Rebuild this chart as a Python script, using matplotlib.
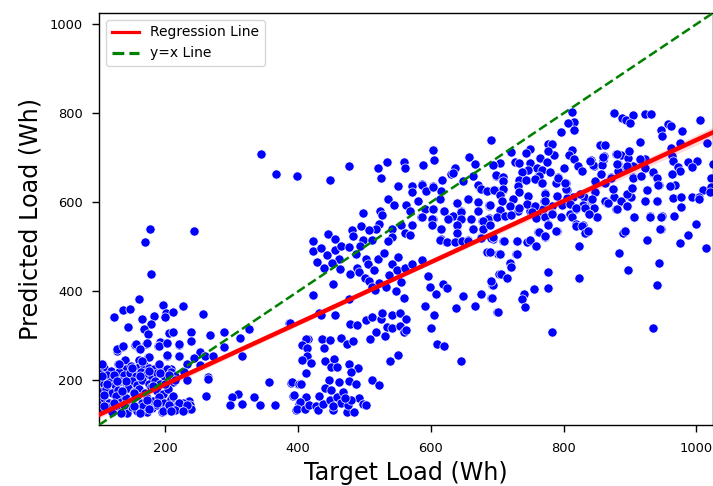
import matplotlib
matplotlib.use("Agg")
import matplotlib.pyplot as plt
from matplotlib.lines import Line2D
import numpy as np

# (target, predicted), one list per region
low_sparse = [
    (178, 439), (160, 383), (123, 342), (136, 358), (147, 361), (197, 369), (226, 368), (183, 345),
    (201, 351), (200, 342), (212, 353), (256, 349), (165, 337), (143, 321), (178, 327), (168, 316),
    (174, 304), (205, 306), (212, 309), (239, 308), (267, 302), (289, 308), (326, 315), (386, 330),
    (313, 295), (238, 288), (221, 279), (201, 283), (192, 287), (189, 278), (171, 282), (154, 280),
    (160, 272), (135, 276), (127, 267), (289, 275), (252, 264), (243, 251), (260, 256), (271, 256),
    (315, 256), (221, 255), (203, 256), (174, 252), (139, 246), (104, 235), (129, 237), (161, 245),
    (190, 235), (233, 236), (252, 235), (228, 220), (205, 220), (209, 226), (233, 201), (264, 208),
    (264, 203), (356, 197), (389, 195), (400, 192), (261, 166), (211, 163), (309, 170), (301, 162),
    (333, 163), (393, 166), (297, 144), (315, 147), (342, 144), (365, 146), (402, 148), (397, 134),
    (235, 153), (177, 541), (170, 510), (243, 535), (344, 708), (366, 663),
]
low_dense = [
    (108, 228), (118, 222), (134, 228), (141, 225), (148, 232), (152, 226), (160, 230), (168, 235),
    (175, 229), (183, 225), (196, 222), (203, 226), (208, 218), (102, 215), (112, 212), (122, 207),
    (130, 218), (138, 213), (146, 216), (155, 210), (163, 218), (172, 214), (180, 208), (188, 216),
    (200, 205), (214, 210), (100, 200), (107, 192), (116, 197), (124, 190), (132, 199), (140, 195),
    (150, 198), (157, 190), (165, 200), (175, 193), (184, 199), (192, 192), (206, 190), (212, 197),
    (103, 175), (110, 180), (120, 172), (128, 178), (136, 170), (143, 182), (152, 174), (160, 180),
    (170, 172), (178, 185), (187, 177), (196, 170), (204, 180), (101, 155), (108, 160), (115, 150),
    (125, 165), (133, 152), (141, 160), (150, 155), (157, 165), (165, 150), (173, 160), (182, 153),
    (190, 163), (198, 150), (208, 158), (218, 145), (226, 150), (104, 135), (112, 140), (120, 130),
    (128, 143), (135, 135), (142, 128), (150, 140), (158, 132), (166, 143), (172, 130), (180, 138),
    (188, 145), (195, 130), (203, 137), (212, 140), (222, 135), (230, 140), (234, 135), (237, 145),
    (228, 142), (127, 270), (136, 277), (155, 281), (172, 284), (162, 271), (190, 278), (202, 284),
    (202, 258), (221, 281), (221, 256), (175, 253), (165, 243), (105, 236), (130, 238), (190, 236),
    (150, 228), (122, 213), (140, 198), (162, 210), (175, 221), (192, 217), (205, 213), (215, 202),
    (105, 210), (112, 191), (127, 198), (182, 187), (200, 191), (211, 165), (107, 168), (135, 176),
    (152, 172), (172, 157), (122, 150), (137, 146), (152, 142), (175, 135), (197, 131), (222, 146),
    (235, 138), (220, 150), (205, 146), (187, 150), (133, 126), (162, 126), (107, 142),
    (238, 135), (232, 146), (215, 133), (208, 132), (226, 132),
]
mid_upper = [
    (398, 658), (448, 651), (477, 681), (521, 678), (534, 690), (525, 654), (560, 691), (561, 677),
    (588, 684), (604, 694), (603, 717), (658, 701), (667, 685), (550, 637), (636, 678), (631, 663),
    (616, 650), (572, 637), (587, 640), (603, 636), (572, 623), (592, 626), (615, 625), (536, 607),
    (545, 593), (563, 595), (580, 602), (524, 580), (498, 577), (527, 571), (568, 580), (591, 584),
    (603, 584), (619, 580), (585, 567), (603, 563), (626, 564), (634, 569), (640, 598), (646, 580),
    (656, 607), (671, 601), (671, 580), (687, 592), (684, 626), (694, 628), (674, 631), (661, 562),
    (645, 562), (687, 565), (677, 558), (699, 567), (494, 547), (522, 552), (517, 540), (507, 538),
    (481, 537), (445, 529), (455, 517), (482, 524), (498, 515), (512, 515), (555, 550), (542, 539),
    (572, 548), (561, 532), (568, 526), (542, 521), (535, 513), (615, 540), (640, 547), (640, 530),
    (663, 541), (679, 540), (615, 517), (623, 510), (639, 512), (648, 513), (656, 515), (675, 522),
    (694, 518), (423, 512), (422, 491), (435, 497), (444, 482), (456, 494), (465, 502), (476, 500),
    (493, 503), (487, 483), (462, 473), (451, 464), (428, 466), (439, 453), (463, 451), (478, 440),
    (502, 473), (505, 461), (489, 452), (492, 444), (514, 449), (521, 472), (529, 486), (550, 477),
    (542, 461), (549, 449), (561, 453), (572, 461), (586, 470), (537, 437), (500, 431), (507, 423),
    (522, 418), (533, 410), (555, 422), (511, 410), (516, 403), (547, 401), (560, 385), (452, 417),
    (423, 392), (476, 383), (596, 435), (598, 410), (608, 393), (618, 416), (625, 408), (591, 368),
    (604, 346), (638, 362), (649, 389), (667, 367), (675, 393), (691, 386), (692, 414), (691, 423),
    (700, 354), (685, 488), (701, 485), (702, 438),
]
mid_dense = [
    (587, 638), (592, 625), (603, 635), (649, 648), (634, 666), (664, 660), (698, 660), (709, 648),
    (731, 637), (744, 650), (762, 658), (767, 643), (671, 638), (676, 629), (684, 625), (696, 628),
    (709, 628), (704, 618), (656, 607), (639, 599), (671, 601), (687, 593), (719, 592), (745, 597),
    (772, 595), (757, 592), (614, 607), (603, 584), (620, 580), (646, 579), (671, 580), (686, 563),
    (661, 562), (699, 568), (711, 569), (731, 580), (749, 580), (764, 573), (602, 563), (586, 568),
    (626, 563), (646, 562), (679, 558), (601, 550), (639, 548), (615, 541), (664, 541), (679, 539),
    (640, 530), (772, 524), (762, 533), (614, 515), (624, 511), (636, 511), (647, 513), (656, 513),
    (675, 520), (691, 519), (709, 513), (729, 514), (749, 514), (759, 501), (685, 488), (704, 485),
    (728, 483), (719, 464), (721, 455),
]
mid_lower = [
    (388, 330), (432, 352), (434, 348), (456, 348), (478, 327), (489, 324), (502, 335), (512, 343),
    (525, 338), (527, 352), (541, 347), (553, 351), (562, 338), (534, 320), (542, 318), (554, 323),
    (560, 309), (563, 313), (517, 309), (509, 294), (531, 300), (600, 318), (609, 282), (619, 278),
    (551, 257), (538, 243), (646, 243), (415, 294), (412, 292), (406, 279), (413, 273), (436, 292),
    (448, 291), (465, 295), (439, 273), (473, 281), (482, 288), (413, 256), (406, 246), (419, 240),
    (440, 243), (454, 249), (449, 230), (459, 231), (476, 236), (490, 229), (479, 219), (412, 217),
    (391, 197), (401, 192), (405, 192), (447, 201), (462, 197), (477, 198), (487, 193), (511, 201),
    (522, 189), (394, 167), (412, 162), (403, 151), (399, 136), (411, 135), (416, 145), (427, 142),
    (430, 133), (438, 147), (431, 165), (440, 183), (449, 178), (448, 157), (458, 163), (468, 174),
    (464, 150), (453, 133), (473, 130), (484, 130), (475, 146), (491, 161), (497, 147), (502, 146),
    (480, 157), (470, 161), (453, 142),
]
high_points = [
    (812, 802), (816, 781), (807, 778), (815, 763), (796, 757), (876, 801), (888, 790), (894, 784),
    (904, 796), (900, 777), (922, 799), (932, 798), (957, 776), (961, 771), (946, 763), (948, 748),
    (979, 760), (1006, 784), (915, 736), (976, 734), (961, 721), (1016, 734), (855, 729), (863, 729),
    (777, 732), (783, 732), (749, 719), (690, 739), (721, 713), (744, 710), (812, 718), (879, 709),
    (899, 716), (887, 706), (897, 700), (786, 706), (808, 706), (765, 700), (777, 715), (815, 697),
    (861, 703), (841, 694), (859, 695), (915, 695), (922, 697), (963, 704), (965, 693), (726, 691),
    (732, 688), (704, 688), (693, 683), (749, 688), (775, 690), (821, 682), (845, 681), (858, 684),
    (882, 685), (894, 680), (904, 682), (988, 690), (1001, 693), (993, 680), (973, 679), (1025, 685),
    (800, 676), (828, 670), (760, 677), (768, 672), (746, 673), (779, 668), (738, 668), (698, 661),
    (856, 664), (882, 669), (922, 678), (934, 666), (976, 670), (963, 664), (791, 657), (709, 657),
    (732, 650), (763, 658), (744, 650), (709, 647), (757, 652), (804, 644), (767, 643), (847, 646),
    (871, 656), (862, 643), (905, 657), (916, 658), (941, 655), (1022, 655), (943, 638), (788, 643),
    (731, 637), (968, 638), (960, 636), (709, 629), (805, 628), (874, 630), (903, 633), (925, 628),
    (1010, 627), (1022, 635), (695, 627), (733, 622), (772, 620), (790, 614), (847, 622), (895, 617),
    (1020, 622), (704, 616), (723, 607), (746, 614), (814, 613), (841, 605), (831, 613), (771, 603),
    (805, 609), (862, 602), (876, 611), (886, 602), (901, 611), (923, 603), (941, 603), (965, 610),
    (977, 613), (993, 612), (1004, 612), (1004, 607), (689, 593), (707, 603), (719, 592), (745, 596),
    (757, 592), (769, 584), (782, 592), (797, 593), (809, 596), (819, 584), (832, 591), (846, 588),
    (866, 598), (895, 591), (879, 585), (977, 590), (704, 583), (732, 588), (752, 578), (782, 575),
    (809, 573), (838, 573), (850, 567), (699, 568), (712, 570), (720, 572), (759, 565), (796, 566),
    (812, 567), (772, 566), (906, 566), (930, 569), (948, 569), (966, 569), (689, 548), (777, 551),
    (818, 551), (829, 548), (999, 551), (946, 540), (893, 536), (890, 530), (836, 535), (832, 530),
    (790, 535), (763, 533), (772, 523), (988, 526), (694, 521), (710, 512), (729, 514), (745, 511),
    (749, 515), (925, 515), (976, 509), (759, 501), (823, 503), (1014, 498), (689, 488), (704, 485),
    (729, 483), (883, 486), (944, 463), (719, 463), (721, 454), (705, 438), (714, 430), (777, 443),
    (897, 447), (823, 429), (693, 414), (690, 423), (941, 415), (756, 405), (777, 408), (740, 393),
    (738, 382), (692, 385), (742, 366), (701, 354), (782, 309), (935, 317),
]
high_dense = [
    (772, 618), (772, 603), (782, 573), (790, 614), (804, 629), (792, 655), (802, 644), (824, 618),
    (829, 595), (842, 607), (818, 588), (832, 588), (847, 648), (856, 663), (872, 655), (882, 670),
    (844, 683), (840, 693), (860, 702), (881, 685), (880, 708), (895, 682), (899, 715), (905, 655),
    (917, 659), (934, 667), (922, 698), (915, 697), (940, 655), (942, 638), (925, 628), (940, 603),
    (922, 603), (895, 618), (903, 633), (874, 629), (862, 603), (867, 599), (895, 592), (880, 584),
    (906, 567), (930, 567), (946, 568), (945, 541), (893, 535), (850, 568), (838, 573), (819, 547),
    (827, 547), (832, 530), (837, 536), (789, 536), (772, 524), (777, 549),
]

line_x = [100, 1025]
line_y = [123, 757]
identity = [100, 1025]
band_x = [100, 560, 1025]
band_low = [115, 434, 745]
band_high = [131, 442, 769]

x_ticks = [200, 400, 600, 800, 1000]
y_ticks = [200, 400, 600, 800, 1000]

points = np.array(low_sparse + low_dense + mid_upper + mid_dense + mid_lower + high_points + high_dense)

fig = plt.figure(figsize=(7.13, 4.86), dpi=100)
ax = fig.add_axes([99 / 713, 61 / 486, 614 / 713, 412 / 486])

ax.scatter(points[:, 0], points[:, 1], s=44, color="blue", edgecolors="white", linewidths=0.5, zorder=2)
ax.fill_between(band_x, band_low, band_high, color="red", alpha=0.15, linewidth=0, zorder=3)
ax.plot(line_x, line_y, color="red", linewidth=3.2, zorder=4)
ax.plot(identity, identity, color="green", linestyle="--", linewidth=1.8, zorder=5)

ax.set_xlim(100, 1025)
ax.set_ylim(100, 1025)
ax.set_xticks(x_ticks)
ax.set_yticks(y_ticks)
ax.tick_params(labelsize=9.4, width=1, length=5)
ax.tick_params(axis="x", pad=7.5)
ax.tick_params(axis="y", pad=6.5)
for spine in ax.spines.values():
    spine.set_linewidth(1)
ax.set_xlabel("Target Load (Wh)", fontsize=17.2, labelpad=4)
ax.set_ylabel("Predicted Load (Wh)", fontsize=17.2, labelpad=5)

# legend handles are thinner/thicker than the plotted lines
handles = [
    Line2D([], [], color="red", linewidth=2.3, label="Regression Line"),
    Line2D([], [], color="green", linestyle="--", linewidth=2.3, label="y=x Line"),
]
ax.legend(handles=handles, loc="upper left", fontsize=10, frameon=True)

fig.savefig("out.png", dpi=100)
